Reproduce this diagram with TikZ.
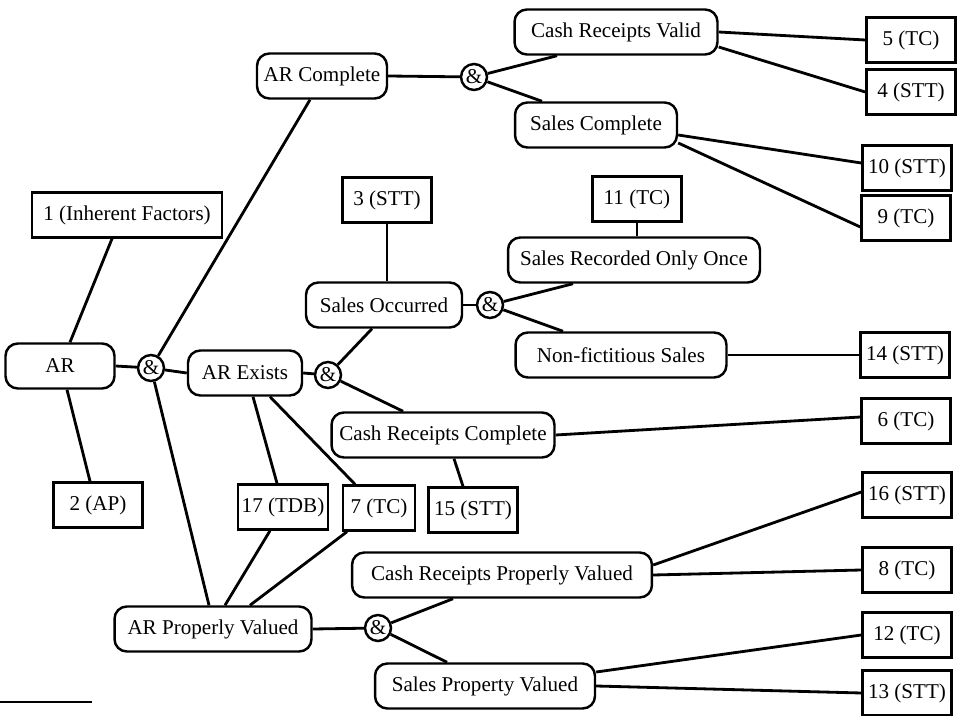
\documentclass[tikz,border=0pt]{standalone}
\usepackage{fontspec}
\setmainfont{Liberation Serif}
\usepackage{tikz}

\begin{document}
\begin{tikzpicture}[
    x=0.02cm, y=-0.02cm,
    goal/.style={
        rectangle, draw=black, line width=1.4pt, rounded corners=7pt,
        minimum height=0.9cm, inner sep=2pt,
        text centered, font=\fontsize{12}{14}\selectfont
    },
    evid/.style={
        rectangle, draw=black, line width=1.4pt,
        minimum width=1.78cm, minimum height=0.9cm, inner sep=2pt,
        text centered, font=\fontsize{12}{14}\selectfont
    },
    andnode/.style={
        circle, draw=black, line width=1.4pt, inner sep=0pt,
        minimum size=0.52cm, font=\fontsize{12}{14}\selectfont
    },
    link/.style={line width=1.6pt},
]
\useasboundingbox (0,0) rectangle (957,716);

%% Radice
\node[goal, minimum width=2.18cm] (ar) at (60,366) {AR};
\node[andnode] (andA) at (151,368) {\&};
\node[evid, minimum width=3.8cm] (if1) at (127,215) {1 (Inherent Factors)};
\node[evid] (ap2) at (98,505) {2 (AP)};

%% AR Complete
\node[goal, minimum width=2.6cm] (arc) at (322,76) {AR Complete};
\node[andnode] (andC) at (474,77) {\&};
\node[goal, minimum width=4.06cm] (crv) at (616,32) {Cash Receipts Valid};
\node[goal, minimum width=3.24cm] (sc) at (596,125) {Sales Complete};
\node[evid] (tc5) at (911,40) {5 (TC)};
\node[evid] (stt4) at (911,92) {4 (STT)};
\node[evid] (stt10) at (907,168) {10 (STT)};
\node[evid] (tc9) at (906,218) {9 (TC)};

%% AR Exists
\node[goal, minimum width=2.28cm] (arx) at (245,373) {AR Exists};
\node[andnode] (andB) at (328,375) {\&};
\node[goal, minimum width=3.12cm] (so) at (384,305) {Sales Occurred};
\node[evid] (stt3) at (387,200) {3 (STT)};
\node[andnode] (andD) at (490,305) {\&};
\node[goal, minimum width=5.04cm] (sroo) at (634,260) {Sales Recorded Only Once};
\node[evid] (tc11) at (637,199) {11 (TC)};
\node[goal, minimum width=4.22cm] (nfs) at (621,355) {Non-fictitious Sales};
\node[evid] (stt14) at (905,355) {14 (STT)};
\node[goal, minimum width=4.46cm] (crc) at (443,435) {Cash Receipts Complete};
\node[evid] (tc6) at (906,421) {6 (TC)};
\node[evid] (stt15) at (473,510) {15 (STT)};
\node[evid] (tdb17) at (283,507) {17 (TDB)};
\node[evid, minimum width=1.44cm] (tc7) at (379,508) {7 (TC)};

%% AR Properly Valued
\node[goal, minimum width=3.94cm] (arpv) at (213,629) {AR Properly Valued};
\node[andnode] (andE) at (378,628) {\&};
\node[goal, minimum width=6cm] (crpv) at (502,575) {Cash Receipts Properly Valued};
\node[goal, minimum width=4.4cm] (spv) at (485,686) {Sales Property Valued};
\node[evid] (stt16) at (907,495) {16 (STT)};
\node[evid] (tc8) at (907,570) {8 (TC)};
\node[evid] (tc12) at (907,635) {12 (TC)};
\node[evid] (stt13) at (907,693) {13 (STT)};

%% Collegamenti radice
\draw[link] (ar.east) -- (andA);
\draw[link] (andA) -- (arx.west);
\draw[link] (andA) -- ([xshift=-0.24cm]arc.south);
\draw[link] (andA) -- ([xshift=-0.08cm]arpv.north);
\draw[link] ([xshift=0.2cm]ar.north) -- ([xshift=-0.3cm]if1.south);
\draw[link] ([xshift=0.14cm]ar.south) -- ([xshift=-0.16cm]ap2.north);

%% Collegamenti AR Complete
\draw[link] (arc.east) -- (andC);
\draw[link] (andC) -- ([xshift=-1.18cm]crv.south);
\draw[link] (andC) -- ([xshift=-1.08cm]sc.north);
\draw[link] (crv.east) -- (tc5.west);
\draw[link] ([yshift=-0.3cm]crv.east) -- (stt4.west);
\draw[link] ([yshift=-0.2cm]sc.east) -- ([yshift=0.1cm]stt10.west);
\draw[link] ([yshift=-0.36cm]sc.east) -- ([yshift=-0.18cm]tc9.west);

%% Collegamenti AR Exists
\draw[link] (arx.east) -- (andB);
\draw[link] (andB) -- ([xshift=-0.24cm]so.south);
\draw[link] (andB) -- ([xshift=-0.8cm]crc.north);
\draw[link] (stt3.south) -- (stt3.south |- so.north);
\draw[link] (so.east) -- (andD);
\draw[link] (andD) -- ([xshift=-1.22cm]sroo.south);
\draw[link] (andD) -- ([xshift=-1.16cm]nfs.north);
\draw[link] (tc11.south) -- (tc11.south |- sroo.north);
\draw[link] (nfs.east) -- (stt14.west);
\draw[link] (crc.east) -- ([yshift=0.08cm]tc6.west);
\draw[link] ([xshift=0.22cm]crc.south) -- ([xshift=-0.2cm]stt15.north);
\draw[link] ([xshift=0.16cm]arx.south) -- ([xshift=-0.12cm]tdb17.north);
\draw[link] ([xshift=0.5cm]arx.south) -- ([xshift=-0.48cm]tc7.north);

%% Collegamenti AR Properly Valued
\draw[link] ([xshift=-0.26cm]tdb17.south) -- ([xshift=0.24cm]arpv.north);
\draw[link] ([xshift=-0.64cm]tc7.south) -- ([xshift=0.74cm]arpv.north);
\draw[link] (arpv.east) -- (andE);
\draw[link] (andE) -- ([xshift=-0.98cm]crpv.south);
\draw[link] (andE) -- ([xshift=-0.76cm]spv.north);
\draw[link] ([yshift=0.2cm]crpv.east) -- ([yshift=0.06cm]stt16.west);
\draw[link] (crpv.east) -- (tc8.west);
\draw[link] ([yshift=0.28cm]spv.east) -- (tc12.west);
\draw[link] (spv.east) -- (stt13.west);

%% Filetto nota
\draw[line width=0.6pt] (0,702) -- (92,702);

\end{tikzpicture}
\end{document}
